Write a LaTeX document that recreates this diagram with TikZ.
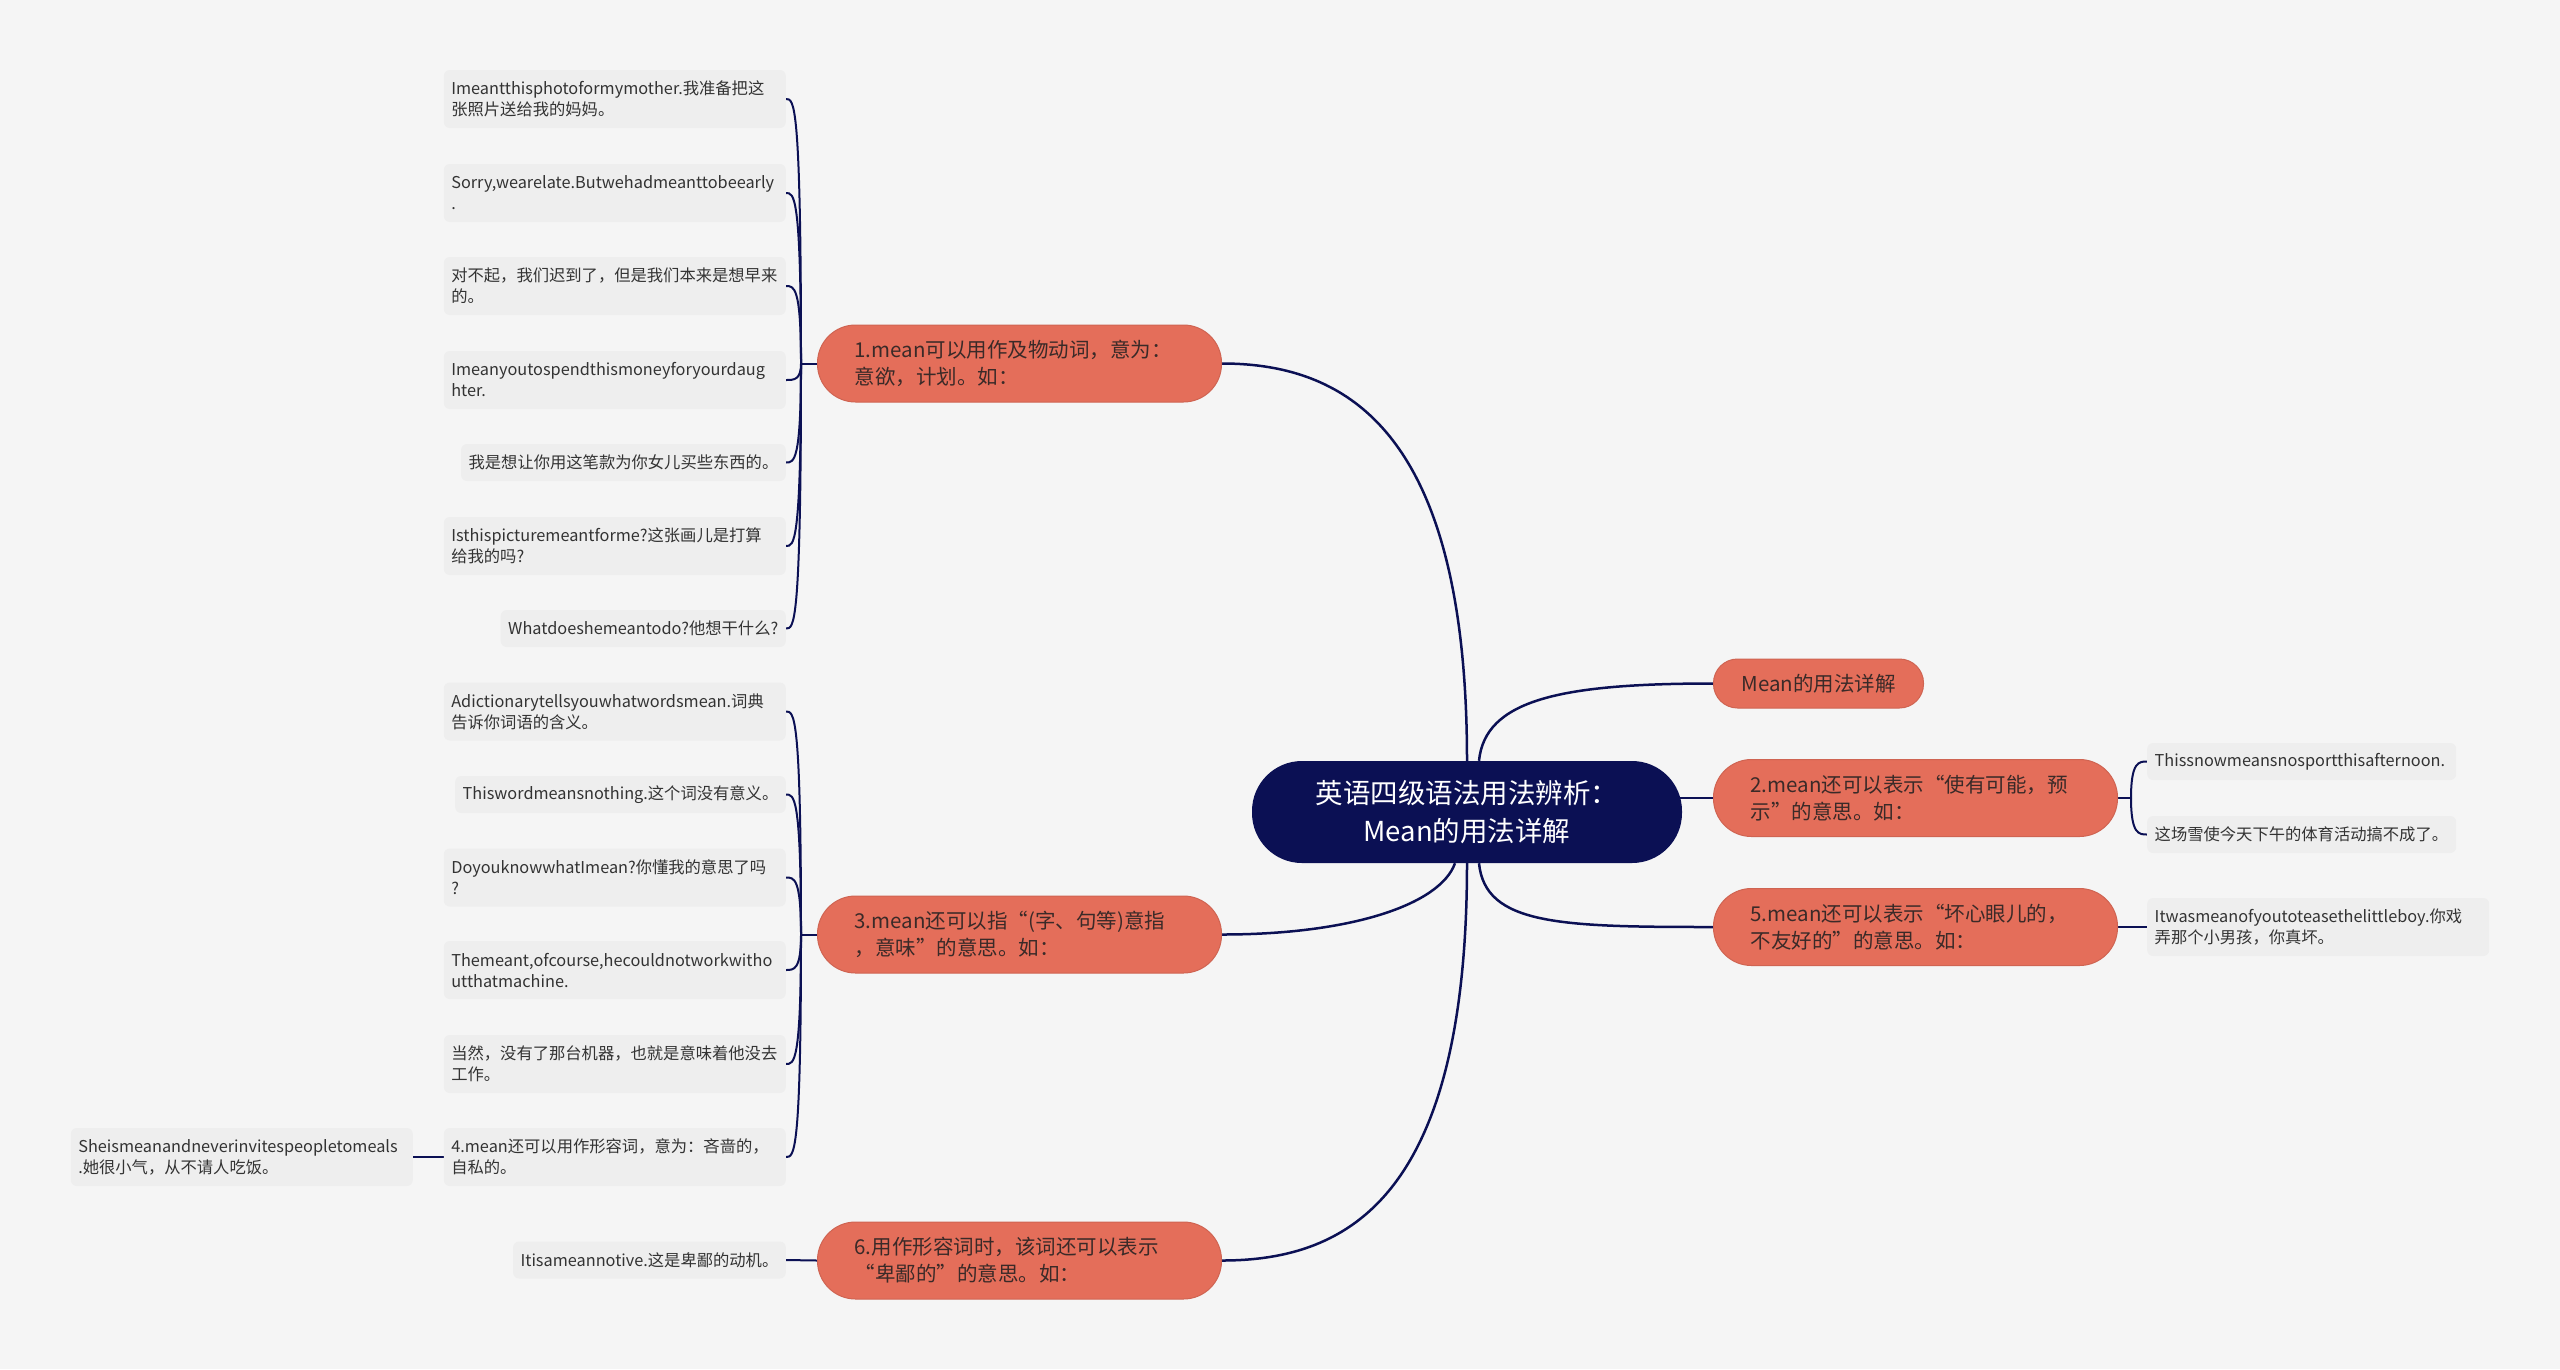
\documentclass[tikz,border=0pt]{standalone}
\usepackage{fontspec}
\setmainfont{Noto Sans CJK SC}
\pgfdeclarelayer{bglayer}
\pgfdeclarelayer{edges}
\pgfsetlayers{bglayer,edges,main}
\definecolor{bgc}{HTML}{F5F5F5}
\definecolor{leafc}{HTML}{EEEEEE}
\definecolor{coral}{HTML}{E46E5A}
\definecolor{coraledge}{HTML}{CF6452}
\definecolor{navy}{HTML}{0B1054}
\definecolor{txt}{HTML}{333333}
\definecolor{btxt}{HTML}{3A2A28}
\tikzset{
  leafbox/.style={fill=leafc, rounded corners=6pt, text=txt, font=\fontsize{16.3}{21}\selectfont,
    inner xsep=7.5pt, inner ysep=3pt, align=left, minimum height=37pt},
  leaftwo/.style={leafbox, text width=327pt, minimum height=58pt},
  branchbox/.style={fill=coral, draw=coraledge, line width=1pt, rounded corners=38pt, text=btxt,
    font=\fontsize{20.5}{27}\selectfont, text width=330pt, align=left, inner xsep=37pt,
    inner ysep=3pt, minimum height=77pt},
  pillbox/.style={fill=coral, draw=coraledge, line width=1pt, rounded corners=24pt, text=btxt,
    font=\fontsize{20.5}{27}\selectfont, align=center, minimum width=210pt, minimum height=49pt, inner ysep=2pt},
  rootbox/.style={fill=navy, rounded corners=50pt, text=white, font=\fontsize{27.5}{38}\selectfont,
    align=center, minimum width=430pt, minimum height=102pt, inner ysep=3pt},
  mainline/.style={draw=navy, line width=2.5pt},
  leafline/.style={draw=navy, line width=2pt},
}
\begin{document}
\begin{tikzpicture}[x=1pt,y=-1pt]
\useasboundingbox (0,0) rectangle (2560,1369);
\begin{pgfonlayer}{bglayer}
\fill[bgc] (0,0) rectangle (2560,1369);
\end{pgfonlayer}

% root
\node[rootbox] (root) at (1467,812) {英语四级语法用法辨析：\\Mean的用法详解};

% left branches
\node[branchbox, anchor=west] (b1) at (817,363.5) {1.mean可以用作及物动词，意为：\\意欲，计划。如：};
\node[branchbox, anchor=west] (b3) at (817,934.5) {3.mean还可以指“(字、句等)意指\\，意味”的意思。如：};
\node[branchbox, anchor=west] (b6) at (817,1260.5) {6.用作形容词时，该词还可以表示\\“卑鄙的”的意思。如：};

% right branches
\node[pillbox, anchor=west] (m) at (1713,683.5) {Mean的用法详解};
\node[branchbox, anchor=west] (b2) at (1713,798) {2.mean还可以表示“使有可能，预\\示”的意思。如：};
\node[branchbox, anchor=west] (b5) at (1713,927) {5.mean还可以表示“坏心眼儿的，\\不友好的”的意思。如：};

% leaves of branch 1
\node[leaftwo, anchor=east] (l1) at (786,99) {Imeantthisphotoformymother.我准备把这\\张照片送给我的妈妈。};
\node[leaftwo, anchor=east] (l2) at (786,193) {Sorry,wearelate.Butwehadmeanttobeearly\\.};
\node[leaftwo, anchor=east] (l3) at (786,286) {对不起，我们迟到了，但是我们本来是想早来\\的。};
\node[leaftwo, anchor=east] (l4) at (786,380) {Imeanyoutospendthismoneyforyourdaug\\hter.};
\node[leafbox, anchor=east] (l5) at (786,462.5) {我是想让你用这笔款为你女儿买些东西的。};
\node[leaftwo, anchor=east] (l6) at (786,546) {Isthispicturemeantforme?这张画儿是打算\\给我的吗?};
\node[leafbox, anchor=east] (l7) at (786,628.5) {Whatdoeshemeantodo?他想干什么?};

% leaves of branch 3
\node[leaftwo, anchor=east] (a1) at (786,711.5) {Adictionarytellsyouwhatwordsmean.词典\\告诉你词语的含义。};
\node[leafbox, anchor=east] (a2) at (786,794.5) {Thiswordmeansnothing.这个词没有意义。};
\node[leaftwo, anchor=east] (a3) at (786,877.5) {DoyouknowwhatImean?你懂我的意思了吗\\?};
\node[leaftwo, anchor=east] (a4) at (786,970) {Themeant,ofcourse,hecouldnotworkwitho\\utthatmachine.};
\node[leaftwo, anchor=east] (a5) at (786,1064) {当然，没有了那台机器，也就是意味着他没去\\工作。};
\node[leaftwo, anchor=east] (a6) at (786,1157) {4.mean还可以用作形容词，意为：吝啬的，\\自私的。};
\node[leaftwo, anchor=east] (she) at (413,1157) {Sheismeanandneverinvitespeopletomeals\\.她很小气，从不请人吃饭。};

% leaf of branch 6
\node[leafbox, anchor=east] (c1) at (786,1260) {Itisameannotive.这是卑鄙的动机。};

% right leaves
\node[leafbox, anchor=west, text width=294pt] (r1) at (2147,761.5) {Thissnowmeansnosportthisafternoon.};
\node[leafbox, anchor=west, text width=294pt] (r2) at (2147,834.5) {这场雪使今天下午的体育活动搞不成了。};
\node[leaftwo, anchor=west] (r3) at (2147,927) {Itwasmeanofyoutoteasethelittleboy.你戏\\弄那个小男孩，你真坏。};

\coordinate (j1) at (801,363.5);
\coordinate (j3) at (801,934.5);
\coordinate (j2) at (2131,798);

\begin{pgfonlayer}{edges}
\draw[mainline] (root.north) .. controls (1467,435) and (1350,363.5) .. (b1.east);
\draw[mainline] ([xshift=-12pt]root.south) .. controls (1440,905) and (1350,934.5) .. (b3.east);
\draw[mainline] (root.south) .. controls (1467,1195) and (1350,1260.5) .. (b6.east);
\draw[mainline] ([xshift=12pt]root.north) .. controls (1485,700) and (1560,683.5) .. (m.west);
\draw[mainline] (root.center |- b2.west) -- (b2.west);
\draw[mainline] ([xshift=12pt]root.south) .. controls (1485,925) and (1560,927) .. (b5.west);

\draw[leafline] (b1.west) -- (j1);
\foreach \n in {l1,l2,l3,l4,l5,l6,l7}
  \draw[leafline] (j1) .. controls (j1 |- \n.east) and ([xshift=8pt]\n.east) .. (\n.east);
\draw[leafline] (b3.west) -- (j3);
\foreach \n in {a1,a2,a3,a4,a5,a6}
  \draw[leafline] (j3) .. controls (j3 |- \n.east) and ([xshift=8pt]\n.east) .. (\n.east);
\draw[leafline] (a6.west) -- (she.east);
\draw[leafline] (b6.west) -- (c1.east);
\draw[leafline] (b2.east) -- (j2);
\foreach \n in {r1,r2}
  \draw[leafline] (j2) .. controls (j2 |- \n.west) and ([xshift=-8pt]\n.west) .. (\n.west);
\draw[leafline] (b5.east) -- (r3.west);
\end{pgfonlayer}
\end{tikzpicture}
\end{document}
